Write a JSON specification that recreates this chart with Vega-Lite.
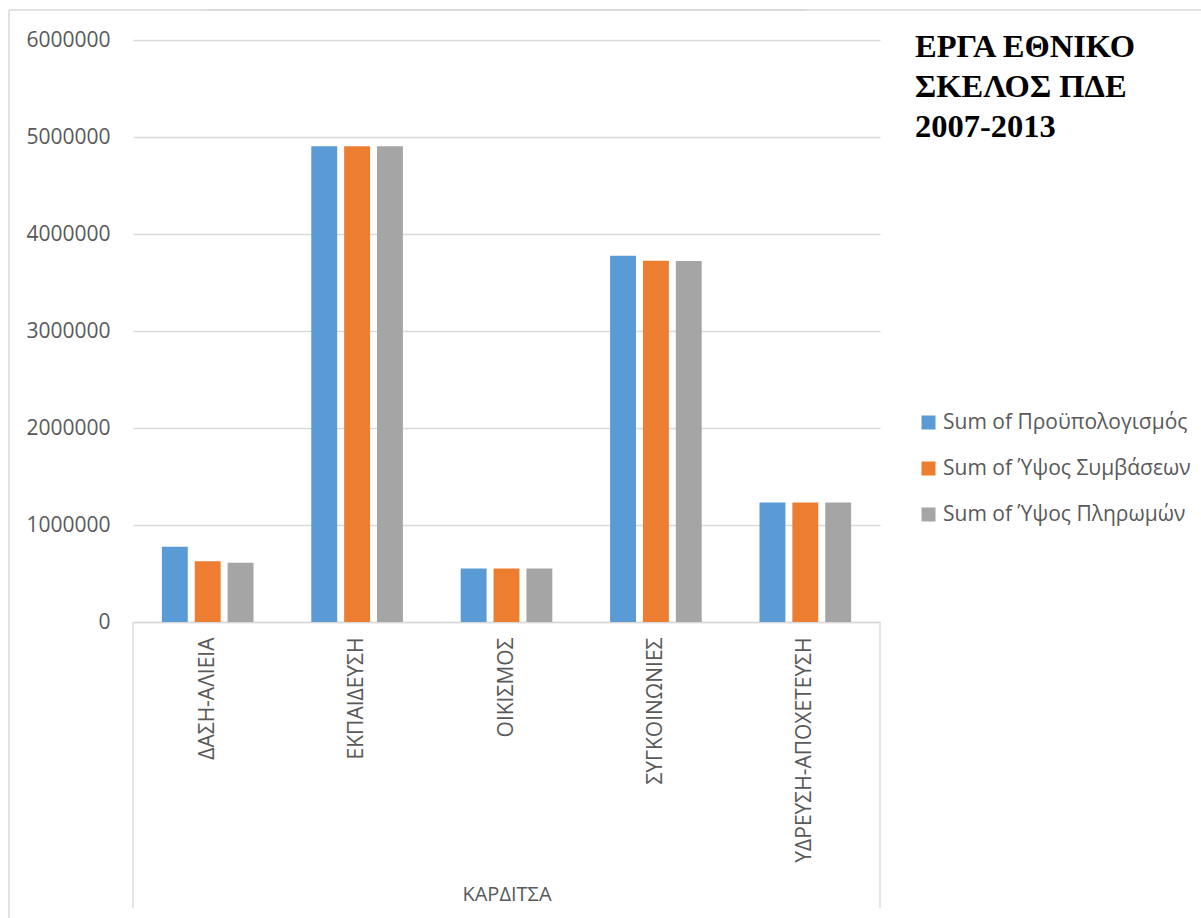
{
  "$schema": "https://vega.github.io/schema/vega-lite/v6.json",
  "width": 747,
  "height": 582,
  "autosize": {"type": "none"},
  "padding": {"left": 133, "top": 40, "right": 321, "bottom": 296},
  "background": "white",
  "config": {"view": {"stroke": null}, "font": "Open Sans"},
  "title": {
    "text": ["ΕΡΓΑ ΕΘΝΙΚΟ", "ΣΚΕΛΟΣ ΠΔΕ", "2007-2013"],
    "orient": "top",
    "anchor": "start",
    "frame": "group",
    "font": "Liberation Serif",
    "fontSize": 32.5,
    "fontWeight": "bold",
    "color": "#000000",
    "lineHeight": 40,
    "baseline": "top",
    "offset": 0,
    "dx": 782,
    "dy": 134
  },
  "datasets": {
    "bars": [
      {"cat": "ΔΑΣΗ-ΑΛΙΕΙΑ", "series": "Sum of Προϋπολογισμός", "value": 775000},
      {"cat": "ΔΑΣΗ-ΑΛΙΕΙΑ", "series": "Sum of Ύψος Συμβάσεων", "value": 626000},
      {"cat": "ΔΑΣΗ-ΑΛΙΕΙΑ", "series": "Sum of Ύψος Πληρωμών", "value": 610000},
      {"cat": "ΕΚΠΑΙΔΕΥΣΗ", "series": "Sum of Προϋπολογισμός", "value": 4905000},
      {"cat": "ΕΚΠΑΙΔΕΥΣΗ", "series": "Sum of Ύψος Συμβάσεων", "value": 4905000},
      {"cat": "ΕΚΠΑΙΔΕΥΣΗ", "series": "Sum of Ύψος Πληρωμών", "value": 4905000},
      {"cat": "ΟΙΚΙΣΜΟΣ", "series": "Sum of Προϋπολογισμός", "value": 551000},
      {"cat": "ΟΙΚΙΣΜΟΣ", "series": "Sum of Ύψος Συμβάσεων", "value": 551000},
      {"cat": "ΟΙΚΙΣΜΟΣ", "series": "Sum of Ύψος Πληρωμών", "value": 551000},
      {"cat": "ΣΥΓΚΟΙΝΩΝΙΕΣ", "series": "Sum of Προϋπολογισμός", "value": 3775000},
      {"cat": "ΣΥΓΚΟΙΝΩΝΙΕΣ", "series": "Sum of Ύψος Συμβάσεων", "value": 3724000},
      {"cat": "ΣΥΓΚΟΙΝΩΝΙΕΣ", "series": "Sum of Ύψος Πληρωμών", "value": 3722000},
      {"cat": "ΥΔΡΕΥΣΗ-ΑΠΟΧΕΤΕΥΣΗ", "series": "Sum of Προϋπολογισμός", "value": 1231000},
      {"cat": "ΥΔΡΕΥΣΗ-ΑΠΟΧΕΤΕΥΣΗ", "series": "Sum of Ύψος Συμβάσεων", "value": 1231000},
      {"cat": "ΥΔΡΕΥΣΗ-ΑΠΟΧΕΤΕΥΣΗ", "series": "Sum of Ύψος Πληρωμών", "value": 1231000}
    ]
  },
  "layer": [
    {
      "data": {"name": "bars"},
      "mark": {"type": "bar"},
      "encoding": {
        "x": {
          "field": "cat",
          "type": "nominal",
          "sort": null,
          "scale": {"paddingInner": 0, "paddingOuter": 0},
          "axis": {
            "title": "ΚΑΡΔΙΤΣΑ",
            "labelAngle": -90,
            "labelFontSize": 21,
            "labelColor": "#595959",
            "labelPadding": 15,
            "labelLimit": 0,
            "ticks": false,
            "domainColor": "#d9d9d9",
            "domainWidth": 1.3,
            "titleFontSize": 20,
            "titleFontWeight": "normal",
            "titleColor": "#595959",
            "titleBaseline": "middle",
            "titleY": 272
          }
        },
        "xOffset": {
          "field": "series",
          "type": "nominal",
          "sort": ["Sum of Προϋπολογισμός", "Sum of Ύψος Συμβάσεων", "Sum of Ύψος Πληρωμών"],
          "scale": {"paddingInner": 0.212, "paddingOuter": 0.879}
        },
        "y": {
          "field": "value",
          "type": "quantitative",
          "scale": {"domain": [0, 6000000], "nice": false},
          "axis": {
            "title": null,
            "domain": false,
            "ticks": false,
            "values": [0, 1000000, 2000000, 3000000, 4000000, 5000000, 6000000],
            "format": "d",
            "labelPadding": 23,
            "labelFontSize": 21,
            "labelColor": "#595959",
            "gridColor": "#d9d9d9",
            "gridWidth": 1.3
          }
        },
        "color": {
          "field": "series",
          "type": "nominal",
          "sort": ["Sum of Προϋπολογισμός", "Sum of Ύψος Συμβάσεων", "Sum of Ύψος Πληρωμών"],
          "scale": {"range": ["#5B9BD5", "#ED7D31", "#A5A5A5"]},
          "legend": {
            "title": null,
            "orient": "none",
            "legendX": 785,
            "legendY": 372,
            "symbolType": "square",
            "symbolSize": 196,
            "symbolStrokeWidth": 0,
            "labelFontSize": 21,
            "labelColor": "#595959",
            "labelOffset": 4,
            "rowPadding": 24,
            "padding": 0,
            "labelLimit": 0
          }
        }
      }
    },
    {
      "data": {"values": [{}]},
      "mark": {"type": "rule", "color": "#d9d9d9", "strokeWidth": 1.3},
      "encoding": {
        "x": {"datum": "ΔΑΣΗ-ΑΛΙΕΙΑ", "type": "nominal", "bandPosition": 0},
        "y": {"datum": 0, "type": "quantitative"},
        "y2": {"datum": -2950000}
      }
    },
    {
      "data": {"values": [{}]},
      "mark": {"type": "rule", "color": "#d9d9d9", "strokeWidth": 1.3},
      "encoding": {
        "x": {"datum": "ΥΔΡΕΥΣΗ-ΑΠΟΧΕΤΕΥΣΗ", "type": "nominal", "bandPosition": 1},
        "y": {"datum": 0, "type": "quantitative"},
        "y2": {"datum": -2950000}
      }
    },
    {
      "data": {"values": [{}]},
      "mark": {"type": "rule", "color": "#d9d9d9", "strokeWidth": 1.5},
      "encoding": {
        "x": {"datum": "ΔΑΣΗ-ΑΛΙΕΙΑ", "type": "nominal", "bandPosition": -0.83},
        "y": {"datum": 6309000, "type": "quantitative"},
        "y2": {"datum": -3100000}
      }
    },
    {
      "data": {"values": [{}]},
      "mark": {"type": "rule", "color": "#d9d9d9", "strokeWidth": 1.5},
      "encoding": {
        "x": {"datum": "ΔΑΣΗ-ΑΛΙΕΙΑ", "type": "nominal", "bandPosition": -0.83},
        "x2": {"datum": "ΥΔΡΕΥΣΗ-ΑΠΟΧΕΤΕΥΣΗ"},
        "y": {"datum": 6309000, "type": "quantitative"}
      }
    },
    {
      "data": {"values": [{}]},
      "mark": {"type": "rule", "color": "#d9d9d9", "strokeWidth": 1.5},
      "encoding": {
        "x": {"datum": "ΥΔΡΕΥΣΗ-ΑΠΟΧΕΤΕΥΣΗ", "type": "nominal", "bandPosition": 3.2},
        "x2": {"datum": "ΔΑΣΗ-ΑΛΙΕΙΑ"},
        "y": {"datum": 6309000, "type": "quantitative"}
      }
    }
  ]
}
